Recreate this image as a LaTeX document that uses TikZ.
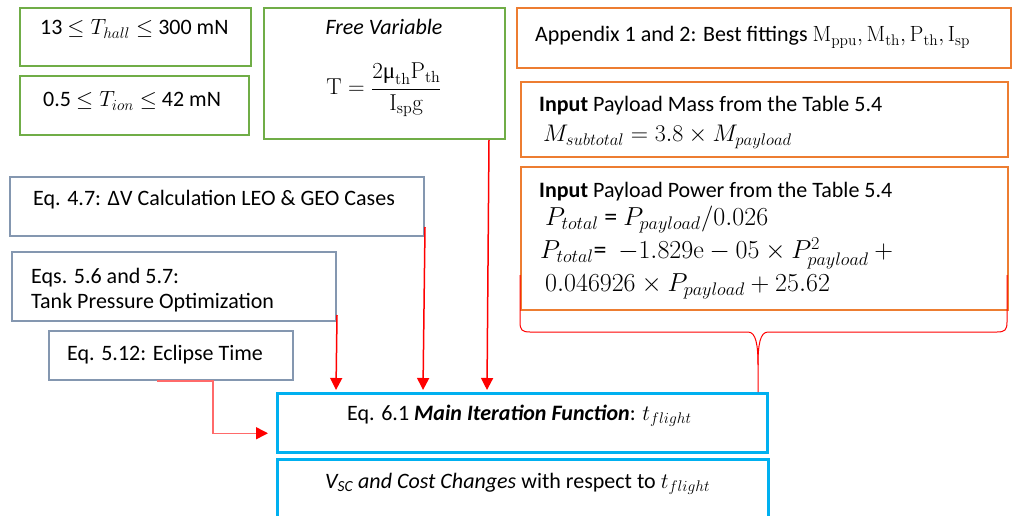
\RequirePackage{fix-cm}
\documentclass[tikz,border=0pt]{standalone}
\usepackage[no-math]{fontspec}
\setmainfont{Carlito}
\newfontfamily\serifgreek{Liberation Serif}
\usetikzlibrary{arrows.meta}
\definecolor{cgreen}{HTML}{70AD47}
\definecolor{corange}{HTML}{ED7D31}
\definecolor{cgray}{HTML}{8497B0}
\definecolor{ccyan}{HTML}{00B0F0}
\definecolor{cred}{HTML}{FF0000}
\definecolor{cpink}{HTML}{FF6A6A}
\tikzset{
  box/.style={draw=#1, line width=2pt, inner sep=0pt, anchor=north west},
  lbl/.style={anchor=base west, inner sep=0pt, font=\fontsize{22}{26}\selectfont},
  clbl/.style={anchor=base, inner sep=0pt, font=\fontsize{22}{26}\selectfont},
  arr/.style={draw=cred, line width=1.5pt, -{Triangle[width=12pt,length=12pt]}},
}
\begin{document}
\begin{tikzpicture}[x=1pt,y=-1pt]
\clip (0,0) rectangle (1012,516);
\fill[white] (0,0) rectangle (1012,516);
% boxes
\node[box=cgreen, minimum width=231pt, minimum height=58pt] (thall) at (19,7) {};
\node[box=cgreen, minimum width=229pt, minimum height=59pt] (tion) at (19,75) {};
\node[box=cgreen, minimum width=241pt, minimum height=131pt] (fv) at (263,7) {};
\node[box=corange, minimum width=494pt, minimum height=60pt] (app) at (516,7) {};
\node[box=corange, minimum width=487pt, minimum height=75pt] (mass) at (520,81) {};
\node[box=corange, minimum width=487pt, minimum height=143pt] (pow) at (520,166) {};
\node[box=cgray, minimum width=414pt, minimum height=59pt] (dv) at (9,176) {};
\node[box=cgray, minimum width=324pt, minimum height=69pt] (tank) at (11,251) {};
\node[box=cgray, minimum width=244pt, minimum height=49pt] (ecl) at (48,330) {};
\node[box=ccyan, line width=2.5pt, minimum width=490pt, minimum height=59pt] (main) at (276,392) {};
\node[box=ccyan, line width=2.5pt, minimum width=491pt, minimum height=70pt] (vsc) at (276,458) {};
% texts
\node[lbl] (t1) at (40,35) {13 $\leq T_{hall} \leq$ 300 mN};
\node[lbl] (t2) at (43,107) {0.5 $\leq T_{ion} \leq$ 42 mN};
\node[clbl] (t3) at (384,35) {\itshape Free Variable};
\node[inner sep=0pt, font=\fontsize{23}{26}\selectfont] (t4) at (384,90) {$\displaystyle\mathrm{T}=\frac{2\mbox{\serifgreek μ}_{\mathrm{th}}\mathrm{P}_{\mathrm{th}}}{\mathrm{I}_{\mathrm{sp}}\mathrm{g}}$};
\node[lbl] (t5) at (535,42) {Appendix 1 and 2: Best fittings $\mathrm{M}_{\mathrm{ppu}}, \mathrm{M}_{\mathrm{th}}, \mathrm{P}_{\mathrm{th}}, \mathrm{I}_{\mathrm{sp}}$};
\node[lbl] (t6) at (539,112) {\textbf{Input} Payload Mass from the Table 5.4};
\node[lbl, font=\fontsize{24}{28}\selectfont] (t7) at (543,142) {$M_{subtotal} = 3.8\times M_{payload}$};
\node[lbl] (t8) at (539,197) {\textbf{Input} Payload Power from the Table 5.4};
\node[anchor=north west, align=left, inner sep=0pt, font=\fontsize{26}{33}\selectfont] (t9) at (540,206)
  {\hspace*{5pt}$P_{total}$ = $P_{payload}/0.026$\\
   $P_{total}$= \ $-1.829\mathrm{e}-05\times P_{payload}^2+{}$\\
   \hspace*{5pt}$0.046926\times P_{payload}+25.62$};
\node[lbl] (t12) at (33,205) {Eq. 4.7: ΔV Calculation LEO \& GEO Cases};
\node[lbl] (t13) at (31,283) {Eqs. 5.6 and 5.7:};
\node[lbl] (t14) at (31,308) {Tank Pressure Optimization};
\node[lbl] (t15) at (67,360) {Eq. 5.12: Eclipse Time};
\node[lbl] (t16) at (347,420) {Eq. 6.1 \textbf{\textit{Main Iteration Function}}: $t_{flight}$};
\node[lbl] (t17) at (325,488) {\textit{V\textsubscript{SC} and Cost Changes} with respect to $t_{flight}$};
% connectors
\draw[arr] ([yshift=7pt]tank.south east) -- ([xshift=60pt,yshift=2pt]main.north west);
\draw[arr] ([yshift=10pt]dv.south east) -- ([xshift=147pt,yshift=2pt]main.north west);
\draw[arr] ([xshift=-17pt]fv.south east) -- ([xshift=211pt,yshift=2pt]main.north west);
\coordinate (e1) at ([xshift=109pt]ecl.south west);
\coordinate (e2) at ([xshift=-8pt,yshift=-10.5pt]main.west);
\draw[draw=cpink, line width=1.5pt] (e1) -| ([xshift=-55pt]e2) -- ([xshift=-10pt]e2);
\draw[cred, -{Triangle[width=12pt,length=12pt]}, line width=1.5pt] ([xshift=-11pt]e2) -- (e2);
% brace
\coordinate (btip) at ([xshift=482pt]main.north west);
\draw[cred, line width=1pt] (520,275) -- (520,322) .. controls (520,330) and (522,332) .. (530,332) -- (748,332) .. controls (756,332) and (758,345) .. (758,365) -- (btip);
\draw[cred, line width=1pt] (1007,275) -- (1007,322) .. controls (1007,330) and (1005,332) .. (997,332) -- (768,332) .. controls (760,332) and (758,345) .. (758,365);
\end{tikzpicture}
\end{document}
